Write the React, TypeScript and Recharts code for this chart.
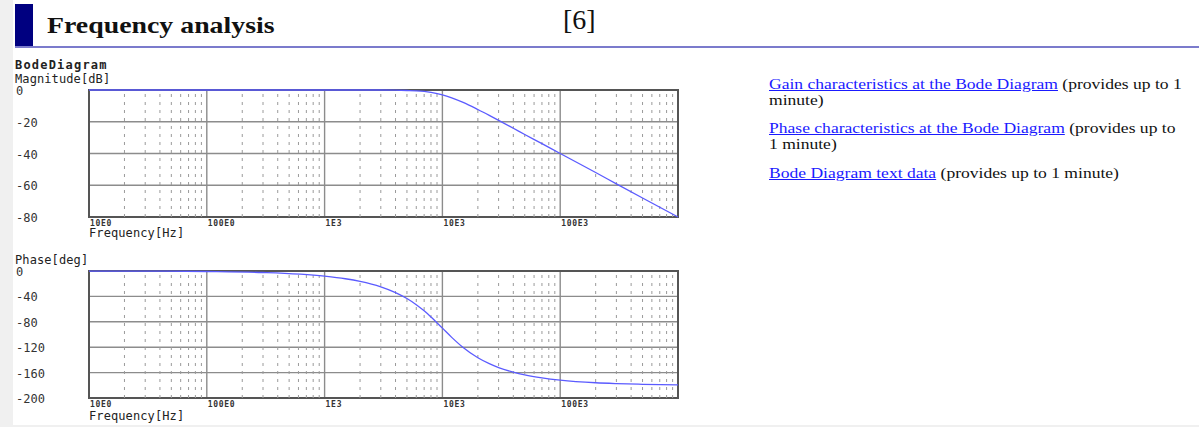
import React from "react";
import {
  LineChart,
  Line,
  XAxis,
  YAxis,
  CartesianGrid,
  ReferenceLine,
  ReferenceArea,
} from "recharts";

// frequency points (Hz)
const freqHz = [
  10, 30, 100, 300, 1000, 1500, 2000, 3000, 4000, 5000, 6000, 7000, 8000,
  10000, 12000, 15000, 20000, 25000, 30000, 40000, 50000, 70000, 100000,
  200000, 300000, 500000, 1000000,
];
const magnitudeDb = [
  0, 0, 0, 0, 0, 0, 0, 0, -0.1, -0.3, -0.5, -0.9, -1.5, -3.0, -4.9, -7.8,
  -12.3, -16.0, -19.1, -24.1, -28.0, -33.8, -40.0, -52.0, -59.1, -68.0, -80.0,
];
const phaseDeg = [
  -0.1, -0.2, -0.8, -2.4, -8.1, -12.2, -16.4, -25.0, -34.0, -43.3, -53.0,
  -62.7, -72.3, -90.0, -104.5, -120.5, -136.7, -146.0, -152.1, -159.3,
  -163.6, -168.3, -171.9, -176.0, -177.3, -178.4, -179.2,
];

const xTicks = [10, 100, 1000, 10000, 100000, 1000000];
const xTickLabels = ["10E0", "100E0", "1E3", "10E3", "100E3", ""];
const magTicks = [0, -20, -40, -60, -80];
const phaseTicks = [0, -40, -80, -120, -160, -200];
const minorSteps = [2, 3, 4, 5, 6, 7, 8, 9];
const decades = [10, 100, 1000, 10000, 100000];

const minorFreq = decades.flatMap((d) => minorSteps.map((m) => m * d));
const data = freqHz.map((f, i) => ({ f, mag: magnitudeDb[i], phase: phaseDeg[i] }));

const MONO = "'DejaVu Sans Mono', monospace";
const SERIF = "'Liberation Serif', 'Times New Roman', serif";
const LINE = "#5b5bff";

function YTick(props: any) {
  const { y, payload } = props;
  return (
    <text x={16} y={y + 1} dominantBaseline="central" fontFamily={MONO} fontSize={12} fill="#333">
      {payload.value}
    </text>
  );
}

function XTick(props: any) {
  const { x, y, payload } = props;
  const label = xTickLabels[xTicks.indexOf(payload.value)] || "";
  return (
    <text
      x={x + 1}
      y={y - 2}
      dominantBaseline="central"
      fontFamily={MONO}
      fontWeight="bold"
      fontSize={8}
      letterSpacing={0.7}
      fill="#333"
    >
      {label}
    </text>
  );
}

function BodePanel({ dataKey, ticks, min }: { dataKey: string; ticks: number[]; min: number }) {
  return (
    <LineChart width={700} height={180} data={data} margin={{ top: 30, right: 22, left: 16, bottom: 3 }}>
      <CartesianGrid stroke="#8c8c8c" strokeWidth={1.4} />
      {minorFreq.map((v) => (
        <ReferenceLine key={v} x={v} stroke="#9a9a9a" strokeDasharray="3 5" />
      ))}
      <ReferenceArea x1={10} x2={1000000} y1={min} y2={0} fill="none" fillOpacity={0} stroke="#555" strokeWidth={2} />
      <XAxis
        dataKey="f"
        type="number"
        scale="log"
        domain={[10, 1000000]}
        ticks={xTicks}
        interval={0}
        axisLine={false}
        tickLine={false}
        height={20}
        tick={<XTick />}
      />
      <YAxis
        type="number"
        domain={[min, 0]}
        ticks={ticks}
        interval={0}
        axisLine={false}
        tickLine={false}
        width={73}
        tick={<YTick />}
      />
      <Line
        type="monotone"
        dataKey={dataKey}
        stroke={LINE}
        strokeWidth={1.3}
        dot={false}
        isAnimationActive={false}
      />
    </LineChart>
  );
}

const label = (top: number, left: number, text: string, bold = false) => (
  <div
    style={{
      position: "absolute",
      left,
      top,
      fontFamily: MONO,
      fontSize: 12,
      fontWeight: bold ? "bold" : "normal",
      letterSpacing: bold ? 1.2 : 0.1,
      lineHeight: "12px",
      color: "#222",
      whiteSpace: "nowrap",
    }}
  >
    {text}
  </div>
);

const linkStyle: React.CSSProperties = { color: "#1a1aff", textDecoration: "underline" };

export default function App() {
  return (
    <div
      style={{
        position: "absolute",
        left: 0,
        top: 0,
        width: 1199,
        height: 427,
        background: "#f0f0f0",
        overflow: "hidden",
      }}
    >
      <div style={{ position: "absolute", left: 13, top: 0, width: 1186, height: 425, background: "#fff" }} />
      <div style={{ position: "absolute", left: 15, top: 4, width: 18, height: 43, background: "#000080" }} />
      <div style={{ position: "absolute", left: 15, top: 46, width: 1184, height: 2, background: "#7b7bcc" }} />
      <div
        style={{
          position: "absolute",
          left: 47,
          top: 14,
          fontFamily: SERIF,
          fontWeight: "bold",
          fontSize: 23,
          lineHeight: "23px",
          whiteSpace: "nowrap",
          transform: "scaleX(1.21)",
          transformOrigin: "left",
          color: "#111",
        }}
      >
        Frequency analysis
      </div>
      <div
        style={{
          position: "absolute",
          left: 563,
          top: 6,
          fontFamily: SERIF,
          fontSize: 28,
          lineHeight: "28px",
          whiteSpace: "nowrap",
          color: "#111",
        }}
      >
        [6]
      </div>

      {label(59, 15, "BodeDiagram", true)}
      {label(73, 15, "Magnitude[dB]")}
      <div style={{ position: "absolute", left: 0, top: 60 }}>
        <BodePanel dataKey="mag" ticks={magTicks} min={-80} />
      </div>
      {label(227, 89, "Frequency[Hz]")}

      {label(254, 15, "Phase[deg]")}
      <div style={{ position: "absolute", left: 0, top: 241 }}>
        <BodePanel dataKey="phase" ticks={phaseTicks} min={-200} />
      </div>
      {label(410, 89, "Frequency[Hz]")}

      <div
        style={{
          position: "absolute",
          left: 769,
          top: 76,
          fontFamily: SERIF,
          fontSize: 15,
          lineHeight: "16px",
          color: "#111",
          whiteSpace: "nowrap",
          transform: "scaleX(1.17)",
          transformOrigin: "left",
        }}
      >
        <div>
          <span style={linkStyle}>Gain characteristics at the Bode Diagram</span> (provides up to 1
          <br />
          minute)
        </div>
        <div style={{ marginTop: 12 }}>
          <span style={linkStyle}>Phase characteristics at the Bode Diagram</span> (provides up to
          <br />1 minute)
        </div>
        <div style={{ marginTop: 13 }}>
          <span style={linkStyle}>Bode Diagram text data</span> (provides up to 1 minute)
        </div>
      </div>
    </div>
  );
}
